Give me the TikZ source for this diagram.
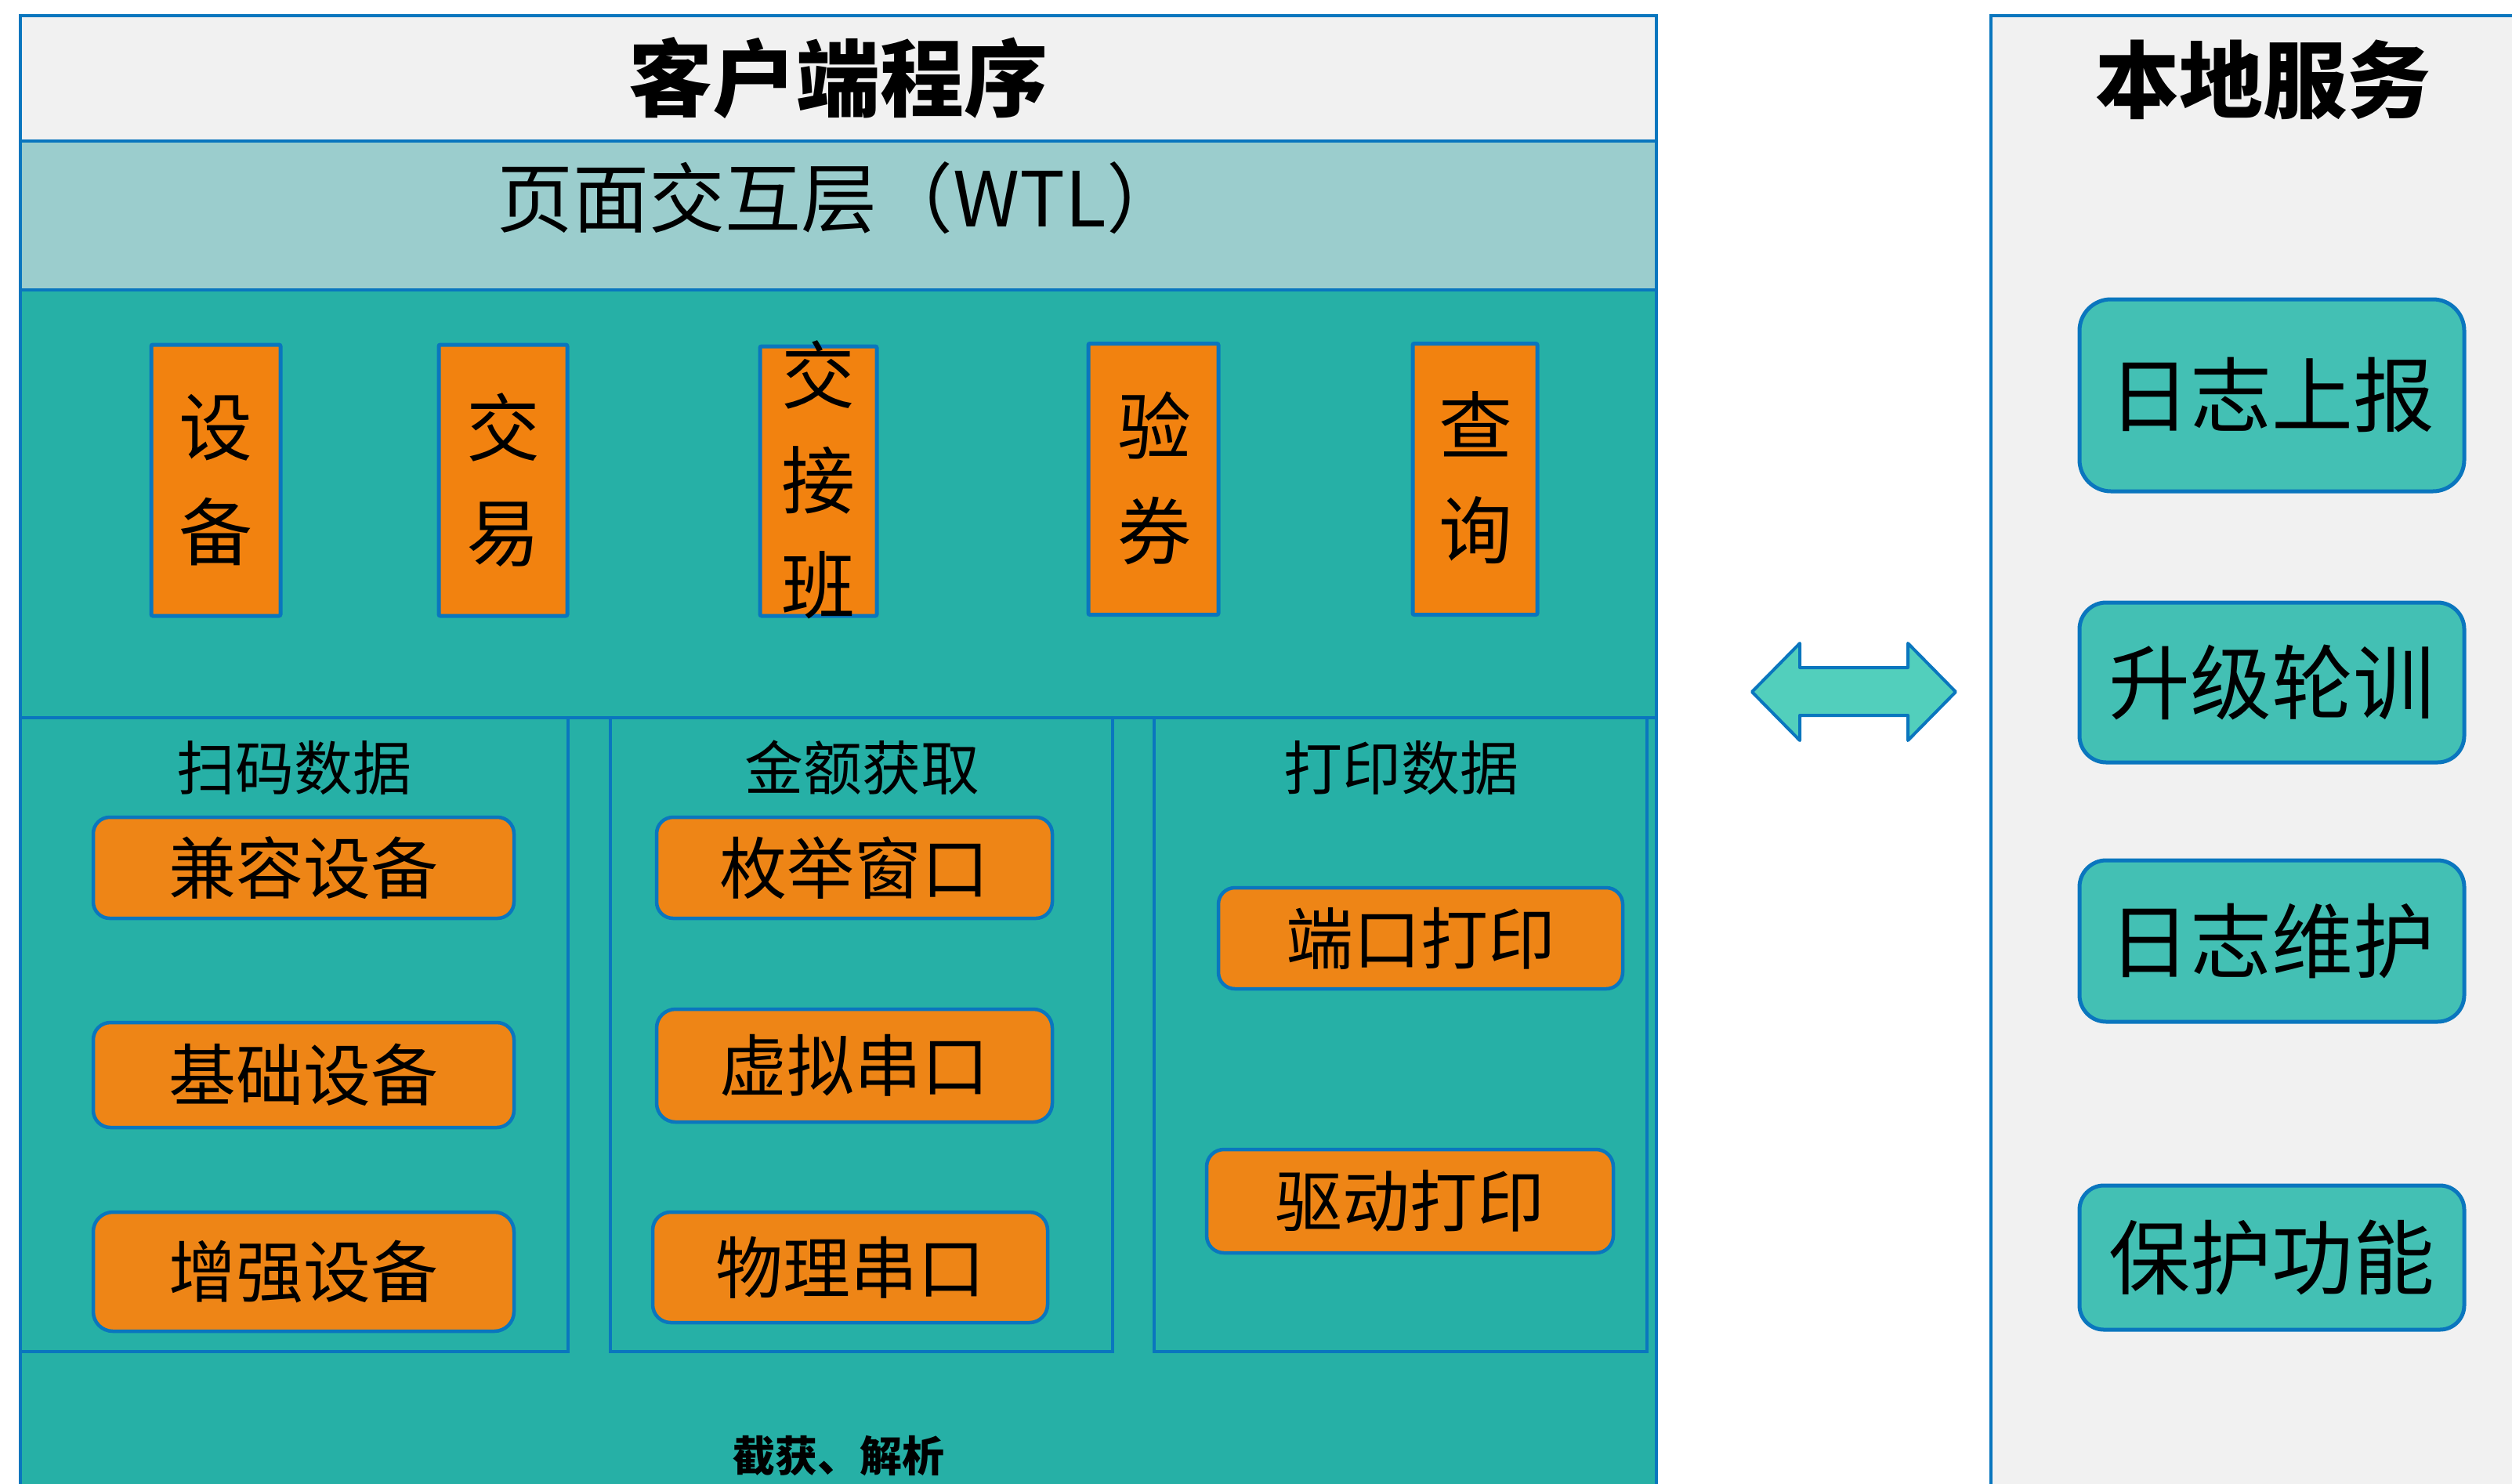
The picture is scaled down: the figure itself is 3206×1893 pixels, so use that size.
\documentclass[tikz,border=0pt]{standalone}
\usepackage{fontspec}
\setmainfont{Noto Sans CJK SC}
\definecolor{cgray}{HTML}{F1F1F1}
\definecolor{clteal}{HTML}{9BCDCD}
\definecolor{cteal}{HTML}{26B0A6}
\definecolor{cblue}{HTML}{0A76BE}
\definecolor{vorange}{HTML}{F2820F}
\definecolor{rorange}{HTML}{EE8516}
\definecolor{steal}{HTML}{43C0B4}
\definecolor{arrowfill}{HTML}{52CFBC}
\newcommand\myfs[1]{\fontsize{#1}{#1}\selectfont}
\tikzset{
  panel/.style={draw=cblue, line width=4.5, inner sep=0},
  vbox/.style={draw=cblue, line width=5, fill=vorange, rounded corners=2, inner sep=0, minimum height=346},
  vtext/.style={align=center, inner sep=0, font={\fontsize{94}{134}\selectfont}},
  rbox/.style={draw=cblue, line width=4.5, fill=rorange, inner sep=0, font=\myfs{86}},
  sbox/.style={draw=cblue, line width=5, fill=steal, inner sep=0, minimum width=491, font=\myfs{104}},
  ptitle/.style={inner sep=0, font=\myfs{75}},
  bigtitle/.style={inner sep=0, font=\bfseries\myfs{107}},
  sepline/.style={draw=cblue, line width=4.5},
  dblarrow/.style={draw=cblue, line width=4, fill=arrowfill, line join=round}
}
\begin{document}
\begin{tikzpicture}[x=1pt,y=-1pt]
\useasboundingbox (0,0) rectangle (3206,1893);
\clip (0,0) rectangle (3206,1893);
% ---------- client program ----------
\node[panel, fill=cteal, minimum width=2088, minimum height=1540] (clientbody) at (1070,1140) {};
\node[panel, fill=cgray, minimum width=2088, minimum height=160] (client) at (1070,100) {};
\node[bigtitle] (clienttitle) at (client) {客户端程序};
\node[panel, fill=clteal, minimum width=2088, minimum height=190] (ui) at (1070,275) {};
\node[inner sep=0, font=\myfs{97}] (uitext) at (1072,253) {页面交互层（WTL）};
\coordinate (sepL) at (26,916);
\coordinate (sepR) at (2114,916);
\draw[sepline] (sepL) -- (sepR);
% vertical boxes
\node[vbox, minimum width=165] (sb) at (275.5,613) {};
\node[vtext] (sbt) at (sb) {设\\备};
\node[vbox, minimum width=164] (jy) at (642,613) {};
\node[vtext] (jyt) at (jy) {交\\易};
\node[vbox, minimum width=149, minimum height=344] (jjb) at (1044.5,614) {};
\node[vtext] (jjbt) at (1044.5,612) {交\\接\\班};
\node[vbox, minimum width=166] (yq) at (1472,611.5) {};
\node[vtext] (yqt) at (1473,610) {验\\券};
\node[vbox, minimum width=159] (cx) at (1882.5,611.5) {};
\node[vtext] (cxt) at (1883.5,610) {查\\询};
% sub panels
\node[panel, fill=cteal, minimum width=699, minimum height=809] (p1) at (375.5,1320.5) {};
\node[panel, fill=cteal, minimum width=641, minimum height=809] (p2) at (1099.5,1320.5) {};
\node[panel, fill=cteal, minimum width=629, minimum height=809] (p3) at (1787.5,1320.5) {};
\node[ptitle] (p1t) at (375,980) {扫码数据};
\node[ptitle] (p2t) at (1100,980) {金额获取};
\node[ptitle] (p3t) at (1788,980) {打印数据};
% rounded boxes
\node[rbox, rounded corners=21, minimum width=537, minimum height=129] (jr) at (387.5,1107.5) {兼容设备};
\node[rbox, rounded corners=22, minimum width=537, minimum height=134] (jc) at (387.5,1372) {基础设备};
\node[rbox, rounded corners=25, minimum width=537, minimum height=152] (zq) at (387.5,1623) {增强设备};
\node[rbox, rounded corners=21, minimum width=505, minimum height=129] (mj) at (1090.5,1107.5) {枚举窗口};
\node[rbox, rounded corners=24, minimum width=505, minimum height=144] (xn) at (1090.5,1360) {虚拟串口};
\node[rbox, rounded corners=23, minimum width=504, minimum height=141] (wl) at (1085,1617.5) {物理串口};
\node[rbox, rounded corners=21, minimum width=516, minimum height=129] (dk) at (1813,1197.5) {端口打印};
\node[rbox, rounded corners=22, minimum width=519, minimum height=132] (qd) at (1799.5,1533) {驱动打印};
\node[inner sep=0, font=\bfseries\myfs{54}] (jx) at (1070,1858) {截获、解析};
% ---------- local service ----------
\node[panel, fill=cgray, minimum width=689, minimum height=1890] (svc) at (2885.5,965) {};
\node[bigtitle] (svctitle) at (2888,102) {本地服务};
\node[sbox, rounded corners=40, minimum height=245] (rz) at (2899.5,504.5) {日志上报};
\node[sbox, rounded corners=34, minimum height=204] (sj) at (2899.5,871) {升级轮训};
\node[sbox, rounded corners=34, minimum height=206] (wh) at (2899.5,1201) {日志维护};
\node[sbox, rounded corners=31, minimum height=184] (bh) at (2899.5,1605) {保护功能};
% ---------- double arrow ----------
\coordinate (arr) at (2366,883);
\draw[dblarrow, shift={(arr)}] (-130,0) -- (-69,-62) -- (-69,-31) -- (69,-31) -- (69,-62)
  -- (130,0) -- (69,62) -- (69,30) -- (-69,30) -- (-69,62) -- cycle;
\end{tikzpicture}
\end{document}
